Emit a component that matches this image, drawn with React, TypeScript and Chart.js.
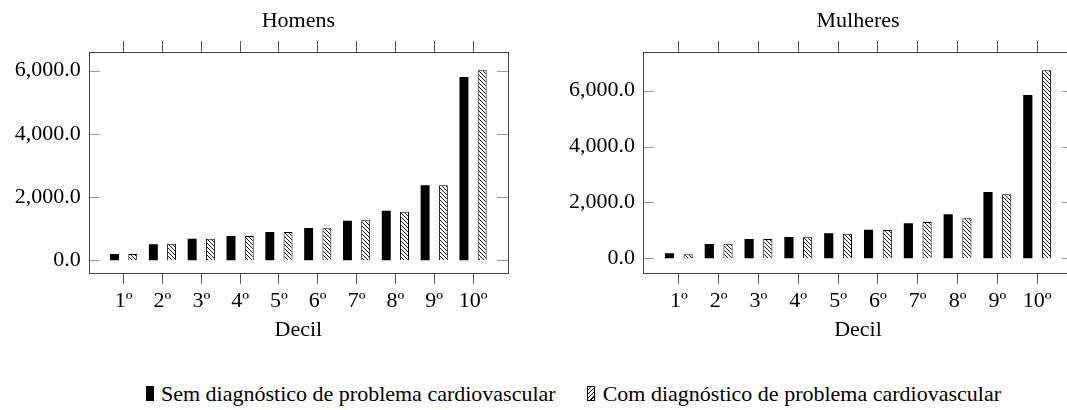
import React, { useEffect, useRef } from 'react';
import { Chart, registerables } from 'chart.js';

Chart.register(...registerables);

// ---------- data ----------
const DECIS = ['1º', '2º', '3º', '4º', '5º', '6º', '7º', '8º', '9º', '10º'];
const HOMENS_SEM = [200, 506, 685, 770, 896, 1023, 1255, 1571, 2373, 5800];
const HOMENS_COM = [200, 527, 685, 770, 896, 1012, 1265, 1540, 2373, 6011];
const MULHERES_SEM = [179, 513, 692, 763, 895, 1026, 1253, 1575, 2374, 5845];
const MULHERES_COM = [143, 525, 692, 752, 883, 1014, 1300, 1431, 2290, 6728];
const Y_TICKS = [0, 2000, 4000, 6000];
const SERIES_LABELS = [
  'Sem diagnóstico de problema cardiovascular',
  'Com diagnóstico de problema cardiovascular',
];
const X_TITLE = 'Decil';

const FONT_FAMILY = "'Liberation Serif', 'Times New Roman', serif";
const FONT_SIZE = 22;
const LINE_H = FONT_SIZE * 1.2;

function makeHatch(): CanvasPattern | string {
  const s = 4;
  const c = document.createElement('canvas');
  c.width = s;
  c.height = s;
  const g = c.getContext('2d');
  if (!g) return '#fff';
  g.fillStyle = '#fff';
  g.fillRect(0, 0, s, s);
  g.strokeStyle = '#000';
  g.lineWidth = 0.9;
  g.beginPath();
  g.moveTo(-1, -1);
  g.lineTo(s + 1, s + 1);
  g.moveTo(-1, s - 1);
  g.lineTo(1, s + 1);
  g.moveTo(s - 1, -1);
  g.lineTo(s + 1, 1);
  g.stroke();
  return g.createPattern(c, 'repeat') || '#fff';
}

const framePlugin = {
  id: 'frame',
  afterDraw(chart: any) {
    const { ctx, chartArea: a, scales } = chart;
    const y = scales.y;
    ctx.save();
    ctx.strokeStyle = '#9a9a9a';
    ctx.lineWidth = 1;
    y.ticks.forEach((t: any) => {
      const py = Math.round(y.getPixelForValue(t.value)) + 0.5;
      ctx.beginPath();
      ctx.moveTo(a.left, py);
      ctx.lineTo(a.left + 11, py);
      ctx.moveTo(a.right - 11, py);
      ctx.lineTo(a.right, py);
      ctx.stroke();
    });
    ctx.strokeStyle = '#444';
    ctx.lineWidth = 1;
    ctx.strokeRect(
      Math.round(a.left) + 0.5,
      Math.round(a.top) + 0.5,
      Math.round(a.right - a.left),
      Math.round(a.bottom - a.top)
    );
    ctx.restore();
  },
};

interface PanelProps {
  title: string;
  sem: number[];
  com: number[];
  yMin: number;
  yMax: number;
  left: number;
  width: number;
  height: number;
  yAxisWidth: number;
  padRight: number;
}

function Panel(p: PanelProps) {
  const ref = useRef<HTMLCanvasElement | null>(null);
  useEffect(() => {
    if (!ref.current) return;
    const font = { family: FONT_FAMILY, size: FONT_SIZE, weight: 'normal' as const };
    const chartTop = 52;
    const chartBottom = 272.7;
    const axisBottom = 330 + LINE_H / 2;
    const xAxisH = axisBottom - chartBottom;
    const titlePadTop = 21.7 - LINE_H / 2;
    const hatch = makeHatch();
    const xCommon = {
      type: 'linear' as const,
      min: -0.9,
      max: DECIS.length - 0.1,
      offset: false,
      border: { display: false },
    };
    const chart = new Chart(ref.current, {
      type: 'bar',
      data: {
        datasets: [
          {
            label: SERIES_LABELS[0],
            data: p.sem.map((v, i) => ({ x: i, y: v })),
            backgroundColor: '#000',
            borderColor: '#000',
            borderWidth: 0,
            categoryPercentage: 0.94,
            barPercentage: 0.49,
          },
          {
            label: SERIES_LABELS[1],
            data: p.com.map((v, i) => ({ x: i, y: v })),
            backgroundColor: hatch as any,
            borderColor: '#000',
            borderWidth: 1,
            categoryPercentage: 0.94,
            barPercentage: 0.49,
          },
        ],
      },
      options: {
        animation: false,
        responsive: false,
        maintainAspectRatio: false,
        events: [],
        layout: {
          padding: { left: 0, right: p.padRight, top: 0, bottom: p.height - axisBottom },
        },
        plugins: {
          legend: { display: false },
          tooltip: { enabled: false },
          title: {
            display: true,
            text: p.title,
            fullSize: false,
            color: '#000',
            font,
            padding: { top: titlePadTop, bottom: chartTop - 11 - titlePadTop - LINE_H },
          },
        },
        scales: {
          x: {
            ...xCommon,
            position: 'bottom',
            ticks: {
              stepSize: 1,
              includeBounds: false,
              autoSkip: false,
              maxRotation: 0,
              minRotation: 0,
              color: '#000',
              font,
              padding: 301.7 - chartBottom - 11 - LINE_H / 2,
              callback: (v: any) => DECIS[Math.round(Number(v))] ?? '',
            },
            grid: {
              offset: false,
              drawOnChartArea: false,
              drawTicks: true,
              tickLength: 11,
              color: '#555',
              lineWidth: 1,
            },
            title: { display: true, text: X_TITLE, color: '#000', font, padding: 0 },
            afterFit: (s: any) => {
              s.height = xAxisH;
            },
          },
          x2: {
            ...xCommon,
            position: 'top',
            ticks: { display: false, stepSize: 1, includeBounds: false, autoSkip: false },
            grid: {
              offset: false,
              drawOnChartArea: false,
              drawTicks: true,
              tickLength: 11,
              color: '#555',
              lineWidth: 1,
            },
            afterFit: (s: any) => {
              s.height = 11;
            },
          },
          y: {
            type: 'linear',
            min: p.yMin,
            max: p.yMax,
            afterBuildTicks: (s: any) => {
              s.ticks = Y_TICKS.map((v) => ({ value: v }));
            },
            ticks: {
              color: '#000',
              font,
              padding: 8,
              callback: (v: any) =>
                Number(v).toLocaleString('en-US', {
                  minimumFractionDigits: 1,
                  maximumFractionDigits: 1,
                }),
            },
            grid: { display: false, drawTicks: false, drawOnChartArea: false },
            border: { display: false },
            afterFit: (s: any) => {
              s.width = p.yAxisWidth;
            },
          },
        },
      } as any,
      plugins: [framePlugin],
    });
    return () => chart.destroy();
  }, []);
  return (
    <canvas
      ref={ref}
      width={p.width}
      height={p.height}
      style={{ position: 'absolute', left: p.left, top: 0, width: p.width, height: p.height }}
    />
  );
}

const hatchCss =
  'repeating-linear-gradient(-45deg, #fff 0px, #fff 2px, #000 2px, #000 3px)';

export default function App() {
  const legendFont = { fontFamily: FONT_FAMILY, fontSize: FONT_SIZE, color: '#000' };
  return (
    <div
      style={{
        position: 'fixed',
        left: 0,
        top: 0,
        width: 1067,
        height: 410,
        overflow: 'hidden',
        background: '#fff',
      }}
    >
      <Panel
        title="Homens"
        sem={HOMENS_SEM}
        com={HOMENS_COM}
        yMin={-392}
        yMax={6592}
        left={0}
        width={530}
        height={350}
        yAxisWidth={88.7}
        padRight={22}
      />
      <Panel
        title="Mulheres"
        sem={MULHERES_SEM}
        com={MULHERES_COM}
        yMin={-515}
        yMax={7385}
        left={530}
        width={560}
        height={350}
        yAxisWidth={113}
        padRight={17}
      />
      <div
        style={{
          position: 'absolute',
          top: 381,
          left: 146,
          display: 'flex',
          alignItems: 'center',
          whiteSpace: 'nowrap',
          lineHeight: '25px',
          ...legendFont,
        }}
      >
        <span style={{ display: 'inline-block', width: 8, height: 15, background: '#000', marginRight: 7 }} />
        <span>{SERIES_LABELS[0]}</span>
        <span
          style={{
            display: 'inline-block',
            width: 8,
            height: 15,
            boxSizing: 'border-box',
            border: '1px solid #000',
            backgroundImage: hatchCss,
            marginLeft: 31,
            marginRight: 8,
          }}
        />
        <span>{SERIES_LABELS[1]}</span>
      </div>
    </div>
  );
}
